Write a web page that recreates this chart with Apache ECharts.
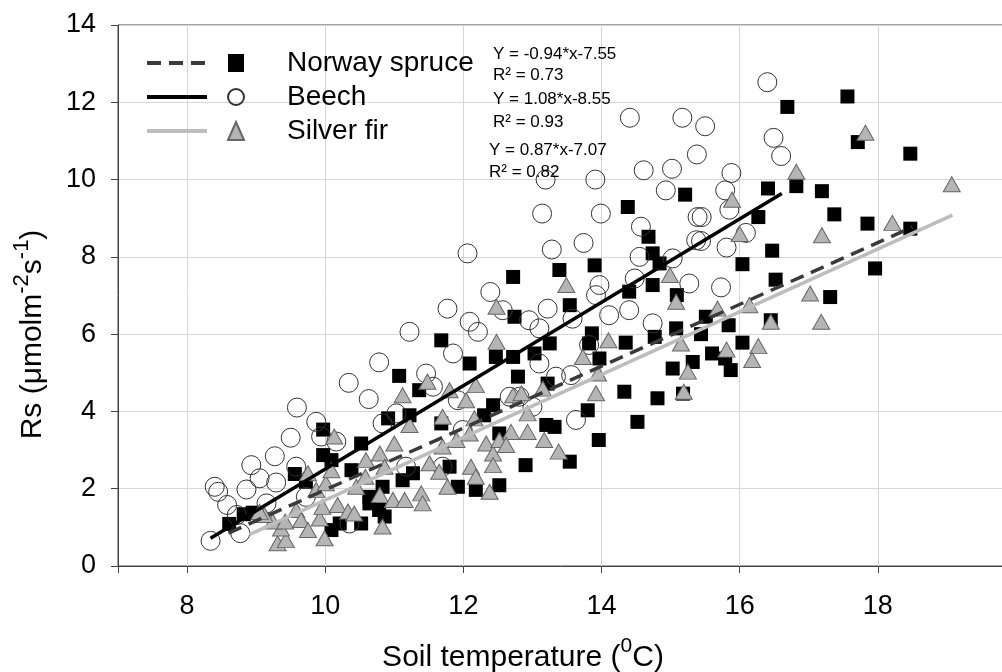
<!DOCTYPE html>
<html>
<head>
<meta charset="utf-8">
<script src="https://cdn.jsdelivr.net/npm/echarts@6/dist/echarts.min.js"></script>
<style>
html, body { margin: 0; padding: 0; background: #fff; }
#chart { width: 1002px; height: 672px; }
</style>
</head>
<body>
<div id="chart"></div>
<script>
// soil temperature (C) vs soil respiration
const spruce = [
    [8.61,1.09],[8.82,1.34],[8.95,1.38],[9.56,2.38],[9.72,2.18],[9.97,3.53],[9.97,2.87],[10.09,2.74],
    [10.38,2.48],[10.52,3.17],[10.52,1.10],[10.09,0.93],[10.21,1.10],[10.64,1.79],[10.83,2.05],[10.86,1.28],
    [11.07,4.92],[10.91,3.82],[11.22,3.90],[11.12,2.22],[11.27,2.40],[10.64,1.62],[10.78,1.45],
    [14.38,9.29],[14.68,8.52],[14.74,8.09],[14.84,7.83],[13.90,7.78],[13.39,7.66],[12.72,7.48],[13.54,6.75],
    [12.74,6.45],[14.40,7.10],[14.74,7.27],[15.09,7.01],[15.08,6.15],[14.77,5.93],[14.35,5.78],[13.86,6.02],
    [13.82,5.76],[11.68,5.84],[13.25,5.76],[13.03,5.50],[12.47,5.41],[12.72,5.41],[12.09,5.24],[13.97,5.37],
    [12.79,4.90],[13.22,4.72],[15.32,5.28],[15.03,5.11],[14.33,4.51],[14.81,4.34],[15.18,4.46],[13.80,4.03],
    [14.52,3.73],[13.96,3.26],[13.20,3.65],[13.32,3.60],[13.54,2.70],[12.90,2.61],[12.43,4.16],[12.30,3.90],
    [11.36,4.55],[11.68,3.69],[12.52,3.43],[11.80,2.57],[12.18,1.97],[12.52,2.09],[11.92,2.05],
    [16.69,11.88],[17.56,12.15],[17.71,10.97],[18.47,10.67],[16.41,9.77],[16.82,9.83],[17.19,9.70],[17.37,9.10],
    [17.85,8.86],[18.47,8.73],[16.27,9.03],[15.21,9.61],[16.47,8.16],[16.04,7.81],[16.52,7.41],[17.31,6.96],
    [17.96,7.70],[15.84,6.23],[15.51,6.45],[15.44,6.00],[16.45,6.36],[16.04,5.78],[15.60,5.50],[15.79,5.37],
    [15.87,5.07]
];
const beech = [
    [8.34,0.65],[8.40,2.05],[8.45,1.92],[8.58,1.58],[8.72,1.32],[8.77,0.85],[8.93,2.61],[8.86,1.98],
    [9.05,2.27],[9.15,1.62],[9.29,2.16],[9.27,2.84],[9.50,3.32],[9.59,4.10],[9.87,3.73],[9.94,3.35],
    [9.58,2.57],[9.72,1.79],[10.16,3.22],[10.34,4.74],[10.63,4.32],[10.78,5.27],[10.35,1.10],[10.83,3.69],
    [11.03,3.95],[11.17,2.57],
    [13.14,9.12],[13.99,9.12],[12.06,8.09],[13.28,8.19],[13.74,8.36],[14.57,8.78],[14.55,8.00],[15.39,9.03],
    [15.37,8.43],[15.03,7.96],[14.48,7.44],[15.27,7.31],[13.97,7.27],[13.92,7.01],[12.39,7.09],[11.77,6.66],
    [12.57,6.62],[13.22,6.66],[12.95,6.36],[13.10,6.15],[12.21,6.06],[12.09,6.32],[11.22,6.06],[13.58,6.40],
    [14.11,6.49],[14.40,6.62],[14.74,6.28],[13.82,5.72],[11.85,5.50],[13.10,5.24],[13.34,4.90],[13.56,4.94],
    [12.81,4.38],[11.46,4.98],[11.56,4.64],[11.92,4.29],[13.00,4.12],[13.63,3.78],[11.70,2.57],[11.99,3.52],
    [12.67,4.38],
    [16.40,12.52],[15.17,11.60],[15.50,11.38],[15.38,10.65],[15.02,10.28],[14.61,10.24],[16.49,11.08],[16.60,10.61],
    [15.88,10.17],[14.93,9.72],[15.79,9.72],[15.85,9.22],[15.45,9.03],[16.09,8.62],[15.44,8.41],[15.81,8.24],
    [15.73,7.21],[14.41,11.60],[13.91,10.00],[13.19,10.00]
];
const fir = [
    [9.31,0.59],[9.43,0.67],[9.36,0.97],[9.24,1.15],[9.12,1.32],[9.42,1.15],[9.58,1.45],[9.65,1.19],
    [9.75,0.93],[9.99,0.72],[9.92,1.23],[9.96,1.53],[9.75,2.40],[9.87,1.97],[10.01,2.14],[10.09,2.48],
    [10.13,3.35],[10.18,1.58],[10.33,1.41],[10.42,1.36],[10.45,2.05],[10.59,2.74],[10.58,2.31],[10.79,1.84],
    [10.83,1.02],[10.79,2.91],[10.86,2.57],[11.00,3.17],[11.12,4.42],[11.22,3.65],[10.98,1.71],[11.15,1.71],
    [9.05,1.40],
    [13.49,7.27],[12.48,6.71],[12.48,5.80],[14.10,5.84],[13.73,5.41],[13.95,4.98],[13.92,4.47],[14.99,7.53],
    [15.08,6.84],[15.15,5.76],[15.25,5.03],[15.19,4.51],[11.48,4.77],[12.18,4.68],[12.04,4.29],[11.70,3.86],
    [11.80,4.55],[12.72,4.42],[12.84,4.47],[12.93,3.95],[13.15,4.59],[12.16,3.82],[12.09,3.43],[11.90,3.26],
    [11.70,3.09],[12.33,3.17],[12.43,2.91],[12.52,3.26],[12.69,3.47],[12.93,3.47],[12.62,3.13],[13.17,3.26],
    [13.38,2.96],[12.11,2.57],[12.43,2.61],[11.51,2.66],[11.65,2.44],[12.18,2.31],[11.77,2.05],[11.39,1.88],
    [12.38,1.92],[11.41,1.62],
    [17.82,11.21],[16.82,10.20],[19.07,9.88],[15.89,9.48],[18.21,8.88],[17.19,8.56],[16.00,8.59],[17.02,7.05],
    [17.18,6.32],[16.14,6.75],[15.68,6.66],[16.45,6.32],[16.27,5.69],[15.81,5.60],[16.18,5.33]
];

// fitted lines, end points as drawn
const spruceFit = [[8.6,0.85],[18.5,8.77]];
const beechFit = [[8.34,0.72],[16.61,9.64]];
const firFit = [[8.9,0.81],[19.08,9.08]];

const seriesNames = ['Norway spruce', 'Beech', 'Silver fir'];
const fitNames = ['Norway spruce fit', 'Beech fit', 'Silver fir fit'];
const eqLabels = ['Y = -0.94*x-7.55', 'R² = 0.73', 'Y = 1.08*x-8.55', 'R² = 0.93', 'Y = 0.87*x-7.07', 'R² = 0.82'];
const eqPos = [[493,46],[493,67],[493,91],[493,114],[489,142],[489,164]];

const FONT = '"Liberation Sans", Arial, sans-serif';

const chart = echarts.init(document.getElementById('chart'));
chart.setOption({
    backgroundColor: '#fff',
    animation: false,
    textStyle: { fontFamily: FONT },
    grid: {
        left: 118, top: 25, width: 898, height: 541,
        outerBoundsMode: 'none', containLabel: false,
        show: true, borderColor: '#444', borderWidth: 1
    },
    legend: [
        {
            data: fitNames, orient: 'vertical', left: 145, top: 46,
            itemWidth: 60, itemHeight: 18, itemGap: 0, padding: 0,
            selectedMode: false,
            formatter: function () { return ' '; },
            itemStyle: { color: 'transparent', borderWidth: 0, opacity: 0 },
            lineStyle: { width: 4 },
            textStyle: { fontSize: 28, lineHeight: 34 }
        },
        {
            data: seriesNames, orient: 'vertical', left: 227, top: 46,
            itemWidth: 16, itemHeight: 18, itemGap: 0, padding: 0,
            selectedMode: false,
            textStyle: { fontSize: 28, lineHeight: 34, color: '#000', fontFamily: FONT, padding: [0, 0, 0, 38] }
        }
    ],
    xAxis: {
        type: 'value', min: 7, max: 20, splitNumber: 6,
        name: 'Soil temperature ({sup|0}C)',
        nameLocation: 'middle', nameGap: 70,
        nameTextStyle: {
            fontSize: 30, color: '#000', fontFamily: FONT, lineHeight: 44,
            padding: [0, 88, 0, 0],
            rich: { sup: { fontSize: 21, verticalAlign: 'top', fontFamily: FONT, color: '#000' } }
        },
        axisLine: { show: true, lineStyle: { color: '#444', width: 1 } },
        axisTick: { show: true, length: 7, lineStyle: { color: '#444' } },
        axisLabel: {
            fontSize: 27, color: '#000', margin: 27, fontFamily: FONT,
            formatter: function (v) { return v === 7 ? '' : String(v); }
        },
        splitLine: { show: true, lineStyle: { color: '#d6d6d6', width: 1 } }
    },
    yAxis: {
        type: 'value', min: 0, max: 14, interval: 2,
        name: 'Rs (μmolm{sup|-2}s{sup|-1})',
        nameLocation: 'middle', nameGap: 62, nameRotate: 90,
        nameTextStyle: {
            fontSize: 30, color: '#000', fontFamily: FONT, lineHeight: 44,
            padding: [0, 78, 0, 0],
            rich: { sup: { fontSize: 22, verticalAlign: 'top', fontFamily: FONT, color: '#000' } }
        },
        axisLine: { show: true, lineStyle: { color: '#444', width: 1 } },
        axisTick: { show: true, length: 7, lineStyle: { color: '#444' } },
        axisLabel: { fontSize: 27, color: '#000', margin: 22, fontFamily: FONT },
        splitLine: { show: true, lineStyle: { color: '#d6d6d6', width: 1 } }
    },
    graphic: eqLabels.map(function (t, i) {
        return {
            type: 'text', left: eqPos[i][0], top: eqPos[i][1], z: 50,
            style: { text: t, font: '17px ' + FONT, fill: '#000' }
        };
    }),
    series: [
        {
            name: seriesNames[0], type: 'scatter', data: spruce,
            symbol: 'rect', symbolSize: 14,
            itemStyle: { color: '#000', borderWidth: 0, opacity: 1 },
            z: 2
        },
        {
            name: seriesNames[1], type: 'scatter', data: beech,
            symbol: 'circle', symbolSize: 19,
            itemStyle: { color: 'transparent', borderColor: '#333', borderWidth: 1, opacity: 1 },
            z: 3
        },
        {
            name: seriesNames[2], type: 'scatter', data: fir,
            symbol: 'triangle', symbolSize: [17, 15],
            itemStyle: { color: '#b5b5b5', borderColor: '#666', borderWidth: 1, opacity: 1 },
            z: 4
        },
        {
            name: fitNames[0], type: 'line', data: spruceFit, symbol: 'none',
            lineStyle: { color: '#3a3a3a', width: 3.5, type: [14, 8] },
            itemStyle: { color: '#3a3a3a' }, z: 6
        },
        {
            name: fitNames[1], type: 'line', data: beechFit, symbol: 'none',
            lineStyle: { color: '#000', width: 3.5 },
            itemStyle: { color: '#000' }, z: 6
        },
        {
            name: fitNames[2], type: 'line', data: firFit, symbol: 'none',
            lineStyle: { color: '#bdbdbd', width: 3.5 },
            itemStyle: { color: '#bdbdbd' }, z: 5
        }
    ]
});
</script>
</body>
</html>
